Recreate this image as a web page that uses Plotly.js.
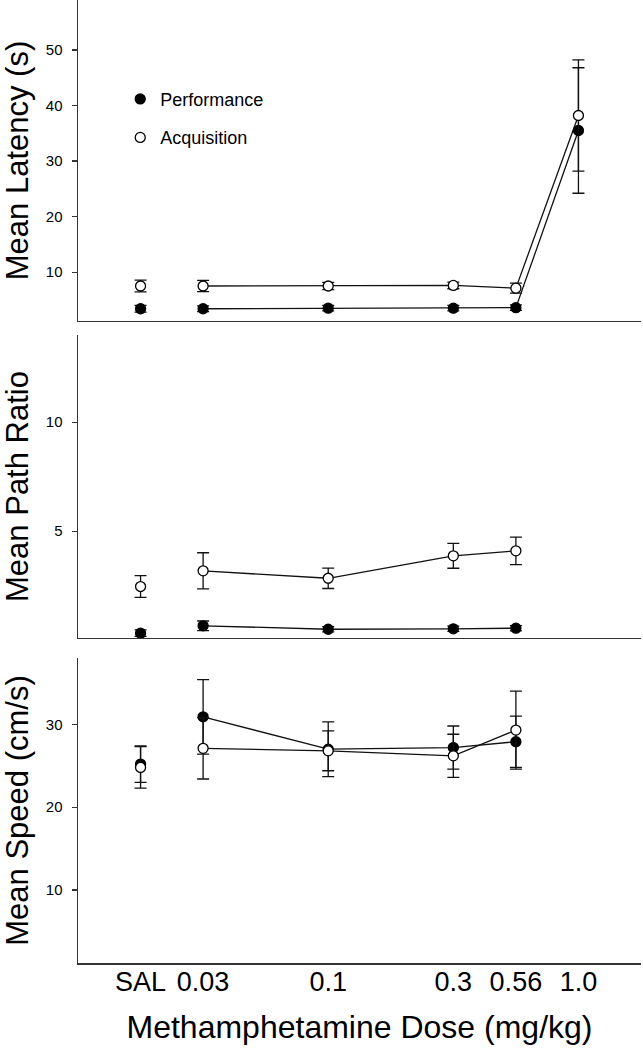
<!DOCTYPE html>
<html>
<head>
<meta charset="utf-8">
<script src="https://cdn.plot.ly/plotly-3.0.1.min.js"></script>
<style>html,body{margin:0;padding:0;background:#fff;}#chart{width:643px;height:1050px;}</style>
</head>
<body>
<div id="chart"></div>
<script>
// ---- data ----
const doseLabels = ['SAL', '0.03', '0.1', '0.3', '0.56', '1.0'];
const dosePos = [0.5, 1, 2, 3, 3.5, 4];

const latencyPerf = [3.4, 3.4, 3.5, 3.5, 3.6, 35.5];
const latencyPerfErr = [0.6, 0.5, 0.5, 0.5, 0.5, 11.3];
const latencyAcq = [7.5, 7.5, 7.5, 7.6, 7.1, 38.2];
const latencyAcqErr = [1.05, 1.0, 0.65, 0.6, 0.9, 10.0];

const pathPerf = [0.32, 0.66, 0.50, 0.52, 0.55];
const pathPerfErr = [0.15, 0.22, 0.12, 0.12, 0.12];
const pathAcq = [2.46, 3.18, 2.84, 3.87, 4.10];
const pathAcqErr = [0.50, 0.83, 0.47, 0.57, 0.63];

const speedPerf = [25.2, 30.9, 27.0, 27.2, 27.9];
const speedPerfErr = [2.2, 4.5, 3.3, 2.6, 3.1];
const speedAcq = [24.8, 27.1, 26.8, 26.2, 29.3];
const speedAcqErr = [2.5, 3.7, 2.4, 2.6, 4.7];

// ---- traces ----
const FONT = 'Liberation Sans, Arial, sans-serif';
function series(vals, errs, filled, xa, ya, name, legendId) {
  const marker = {size: 10, color: filled ? '#000' : '#fff', line: {color: '#000', width: 1.3}};
  const err = (a) => ({type: 'data', array: a, visible: true, color: '#111', thickness: 1.3, width: 6});
  const salTrace = {
    x: dosePos.slice(0, 1), y: vals.slice(0, 1), error_y: err(errs.slice(0, 1)),
    mode: 'markers', marker: marker, xaxis: xa, yaxis: ya, name: name,
    showlegend: !!legendId, legend: legendId || 'legend', cliponaxis: false
  };
  const doseTrace = {
    x: dosePos.slice(1, vals.length), y: vals.slice(1), error_y: err(errs.slice(1)),
    mode: 'lines+markers', marker: marker, line: {color: '#111', width: 1.3},
    xaxis: xa, yaxis: ya, name: name, showlegend: false, cliponaxis: false
  };
  return [doseTrace, salTrace];
}

const traces = [].concat(
  series(latencyPerf, latencyPerfErr, true, 'x', 'y', 'Performance', 'legend'),
  series(latencyAcq, latencyAcqErr, false, 'x', 'y', 'Acquisition', 'legend2'),
  series(pathPerf, pathPerfErr, true, 'x2', 'y2', 'Performance'),
  series(pathAcq, pathAcqErr, false, 'x2', 'y2', 'Acquisition'),
  series(speedPerf, speedPerfErr, true, 'x3', 'y3', 'Performance'),
  series(speedAcq, speedAcqErr, false, 'x3', 'y3', 'Acquisition')
);

// ---- layout ----
const axisLine = {showline: true, linecolor: '#333', linewidth: 1.5, zeroline: false, showgrid: false};
function xAxis(anchor, showLabels) {
  return Object.assign({}, axisLine, {
    anchor: anchor, range: [0, 4.5], domain: [0, 1],
    tickmode: 'array', tickvals: dosePos, ticktext: doseLabels,
    showticklabels: showLabels, ticks: '', ticklabelstandoff: -6,
    tickfont: {family: FONT, size: 27, color: '#000'}
  });
}
function yAxis(anchor, domain, range, tickvals, title) {
  return Object.assign({}, axisLine, {
    anchor: anchor, domain: domain, range: range,
    tickmode: 'array', tickvals: tickvals,
    ticks: 'outside', ticklen: 5, tickwidth: 1.2, tickcolor: '#333',
    ticklabelstandoff: 6,
    tickfont: {family: FONT, size: 15, color: '#000'},
    title: {text: title, font: {family: FONT, size: 31, color: '#000'}, standoff: 12},
    automargin: false
  });
}

const layout = {
  width: 643, height: 1050,
  margin: {l: 78, r: 2, t: 0, b: 87},
  paper_bgcolor: '#fff', plot_bgcolor: '#fff',
  font: {family: FONT, color: '#000'},
  xaxis: xAxis('y', false),
  xaxis2: Object.assign(xAxis('y2', false), {matches: 'x'}),
  xaxis3: Object.assign(xAxis('y3', true), {
    matches: 'x',
    title: {text: 'Methamphetamine Dose (mg/kg)', font: {family: FONT, size: 32, color: '#000'}, standoff: 19}
  }),
  yaxis: yAxis('x', [0.6667, 1], [1.2, 59], [10, 20, 30, 40, 50], 'Mean Latency (s)'),
  yaxis2: yAxis('x2', [0.3375, 0.6521], [0.1, 14], [5, 10], 'Mean Path Ratio'),
  yaxis3: yAxis('x3', [0, 0.3167], [1.2, 38], [10, 20, 30], 'Mean Speed (cm/s)'),
  legend: {x: 0.075, y: 0.897, xanchor: 'left', yanchor: 'middle', bgcolor: 'rgba(0,0,0,0)',
           font: {family: FONT, size: 18, color: '#000'}},
  legend2: {x: 0.075, y: 0.857, xanchor: 'left', yanchor: 'middle', bgcolor: 'rgba(0,0,0,0)',
            font: {family: FONT, size: 18, color: '#000'}},
  showlegend: true
};

Plotly.newPlot('chart', traces, layout, {displayModeBar: false, staticPlot: true});
</script>
</body>
</html>
